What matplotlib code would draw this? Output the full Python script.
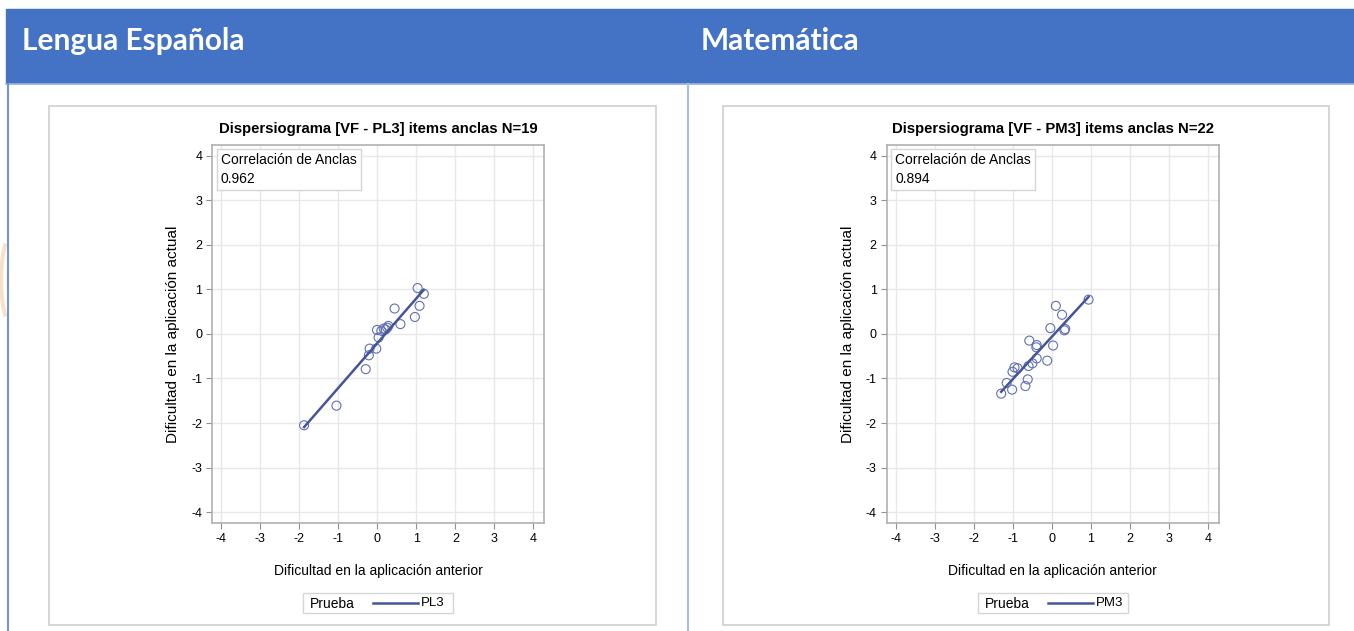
import matplotlib.pyplot as plt
import numpy as np
from matplotlib.patches import Rectangle, Arc

# figure size in pixels
W, H = 1354, 631

# data
lengua_x = [1.03, 1.19, 1.08, 0.96, 0.44, 0.59, -0.01, 0.10, 0.16, 0.21, 0.25, 0.28,
            0.03, -0.03, -0.20, -0.22, -0.30, -1.05, -1.88]
lengua_y = [1.03, 0.90, 0.63, 0.38, 0.57, 0.22, 0.09, 0.07, 0.12, 0.10, 0.14, 0.18,
            -0.08, -0.33, -0.33, -0.48, -0.79, -1.61, -2.05]
mate_x = [0.94, 0.10, 0.26, -0.04, 0.34, 0.32, 0.03, -0.58, -0.39, -0.40, -0.39,
          -0.12, -0.50, -0.60, -0.88, -0.96, -1.01, -0.62, -0.68, -1.16, -1.02, -1.30]
mate_y = [0.77, 0.63, 0.43, 0.13, 0.11, 0.08, -0.26, -0.15, -0.25, -0.30, -0.55,
          -0.60, -0.66, -0.72, -0.77, -0.75, -0.85, -1.02, -1.17, -1.10, -1.25, -1.34]

headers = ['Lengua Española', 'Matemática']
titles = ['Dispersiograma [VF - PL3] items anclas N=19',
          'Dispersiograma [VF - PM3] items anclas N=22']
correlations = ['0.962', '0.894']
series_names = ['PL3', 'PM3']
ticks = [-4, -3, -2, -1, 0, 1, 2, 3, 4]

# styling
header_blue = '#4472c4'
mark_color = '#6270b2'
line_color = '#44559a'
grey_frame = '#cfcfcf'
chart_font = 'Liberation Sans'
plt.rcParams['axes.unicode_minus'] = False

fig = plt.figure(figsize=(W / 100, H / 100), dpi=100)

# background layer in pixel coordinates
bg = fig.add_axes([0, 0, 1, 1], zorder=0)
bg.set_xlim(0, W)
bg.set_ylim(H, 0)
bg.axis('off')

# faint decorative arcs
bg.add_patch(Arc((36, 280), 70, 150, theta1=130, theta2=230, color='#f6e2c8', lw=3))
bg.add_patch(Arc((1230, -60), 220, 160, theta1=200, theta2=300, color='#f5ecb0', lw=2))

bg.add_patch(Rectangle((6, 9), W - 6, 74, color=header_blue, zorder=1))
bg.plot([6, W], [83.5, 83.5], color='#9bb3e0', lw=1.2, zorder=2)
bg.plot([8, 8], [84, H], color='#7393d4', lw=1.5, zorder=2)
bg.plot([687.5, 687.5], [84, H], color='#a9bfe8', lw=1.5, zorder=2)

header_x = [22, 701]
panel_x = [(49, 656), (723, 1329)]
axes_x = [(212, 544), (886.5, 1218.5)]
ax_top, ax_bottom = 145, 523.3

datasets = [(lengua_x, lengua_y), (mate_x, mate_y)]

for i in range(2):
    bg.text(header_x[i], 41, headers[i], color='white', fontsize=21.5,
            fontweight='bold', family='Lato', va='center', ha='left', zorder=3)
    px0, px1 = panel_x[i]
    bg.add_patch(Rectangle((px0, 106), px1 - px0, 519, fill=False,
                           ec=grey_frame, lw=1.2, zorder=2))

    x0, x1 = axes_x[i]
    ax = fig.add_axes([x0 / W, 1 - ax_bottom / H, (x1 - x0) / W, (ax_bottom - ax_top) / H],
                      zorder=2)
    xs, ys = datasets[i]
    ax.scatter(xs, ys, s=42, facecolors='none', edgecolors=mark_color,
               linewidths=0.8, zorder=3)
    slope, inter = np.polyfit(xs, ys, 1)
    fit_x = np.array([min(xs), max(xs)])
    ax.plot(fit_x, slope * fit_x + inter, color=line_color, lw=1.8, zorder=4)

    ax.set_xlim(-4.24, 4.27)
    ax.set_ylim(-4.25, 4.24)
    ax.set_xticks(ticks)
    ax.set_yticks(ticks)
    ax.grid(True, color='#e8e8e8', lw=1)
    ax.set_axisbelow(True)
    for s in ax.spines.values():
        s.set_color('#b0b0b0')
        s.set_linewidth(1.2)
    ax.tick_params(length=4, width=0.8, color='#909090', labelsize=9, pad=3)
    for lab in ax.get_xticklabels() + ax.get_yticklabels():
        lab.set_family(chart_font)

    ax.set_title(titles[i], fontsize=10.7, fontweight='bold', family=chart_font, pad=9)
    ax.set_xlabel('Dificultad en la aplicación anterior', fontsize=10,
                  family=chart_font, labelpad=14)
    ax.set_ylabel('Dificultad en la aplicación actual', fontsize=11,
                  family=chart_font, labelpad=8)
    ax.text(0.027, 0.978, 'Correlación de Anclas\n' + correlations[i],
            transform=ax.transAxes, va='top', ha='left', fontsize=10,
            family=chart_font, linespacing=1.45,
            bbox=dict(boxstyle='square,pad=0.3', fc='white', ec='#d6d6d6', lw=1))

    # legend below the plot
    cx = (x0 + x1) / 2
    bg.add_patch(Rectangle((cx - 75, 593), 150, 20, fill=False, ec='#d6d6d6',
                           lw=1, zorder=2))
    bg.text(cx - 68, 603.5, 'Prueba', fontsize=10, family=chart_font,
            va='center', ha='left', zorder=3)
    bg.plot([cx - 5, cx + 40], [603, 603], color=line_color, lw=1.8, zorder=3)
    bg.text(cx + 43, 603.5, series_names[i], fontsize=9.5, family=chart_font,
            va='center', ha='left', zorder=3)

fig.savefig('out.png', dpi=100)
